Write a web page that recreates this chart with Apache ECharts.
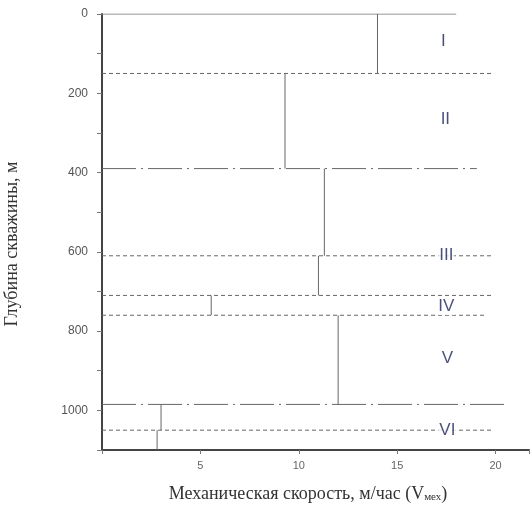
<!DOCTYPE html>
<html>
<head>
<meta charset="utf-8">
<script src="https://cdn.jsdelivr.net/npm/echarts@6/dist/echarts.min.js"></script>
<style>
  html, body { margin: 0; padding: 0; background: #fff; }
  #chart { width: 532px; height: 507px; }
</style>
</head>
<body>
<div id="chart"></div>
<script>
// границы интервалов по глубине, м
var boundaries = [0, 150, 390, 610, 710, 760, 985, 1050, 1100];
// механическая скорость на интервалах, м/час
var speeds = [14, 9.3, 11.3, 11, 5.55, 12, 3, 2.8];
// горизонтальные линии: глубина, длина по оси X, тип
var hDepth = [0, 150, 390, 610, 710, 760, 985, 1050];
var hLength = [18, 19.85, 19.05, 19.85, 19.85, 19.5, 20.55, 19.85];
var hType = ['solid', 'dashed', 'dashdot', 'dashed', 'dashed', 'dashed', 'dashdot', 'dashed'];
// подписи интервалов
var romanNames = ['I', 'II', 'III', 'IV', 'V', 'VI'];
var romanX = [17.35, 17.45, 17.5, 17.5, 17.55, 17.55];
var romanDepth = [70, 265, 610, 738, 868, 1050];

var xMax = 21.7;
var depthMax = 1100;

var lineTypes = {
  solid: 'solid',
  dashed: [4, 3],
  dashdot: [34, 5, 2, 5]
};

var series = [];

// горизонтальные линии
for (var i = 0; i < hDepth.length; i++) {
  series.push({
    type: 'line',
    data: [[0, hDepth[i]], [hLength[i], hDepth[i]]],
    symbol: 'none',
    silent: true,
    lineStyle: {
      color: hType[i] == 'solid' ? '#777' : '#666',
      width: 1,
      type: lineTypes[hType[i]]
    },
    z: 2
  });
}

// вертикальные отрезки профиля скорости
for (var i = 0; i < speeds.length; i++) {
  series.push({
    type: 'line',
    data: [[speeds[i], boundaries[i]], [speeds[i], boundaries[i + 1]]],
    symbol: 'none',
    silent: true,
    lineStyle: { color: '#666', width: 1 },
    z: 3
  });
}

// римские цифры
series.push({
  type: 'scatter',
  symbolSize: 0,
  data: romanNames.map(function (n, i) { return { value: [romanX[i], romanDepth[i]], name: n }; }),
  label: {
    show: true,
    position: 'inside',
    formatter: '{b}',
    color: '#1c2358',
    fontFamily: 'Liberation Sans',
    fontSize: 17,
    backgroundColor: '#fff',
    padding: [0, 1]
  },
  z: 5
});

var chart = echarts.init(document.getElementById('chart'));
chart.setOption({
  animation: false,
  grid: { left: 102, right: 0, top: 14, bottom: 57 },
  graphic: [
    {
      type: 'text',
      x: 12,
      y: 244,
      rotation: Math.PI / 2,
      style: {
        text: 'Глубина скважины, м',
        fontFamily: 'Liberation Serif',
        fontSize: 18,
        fill: '#333',
        align: 'center',
        verticalAlign: 'middle'
      }
    },
    {
      type: 'text',
      x: 308,
      y: 494,
      style: {
        text: 'Механическая скорость, м/час (V{sub|мех})',
        fontFamily: 'Liberation Serif',
        fontSize: 18,
        fill: '#333',
        align: 'center',
        verticalAlign: 'middle',
        rich: {
          sub: { fontFamily: 'Liberation Serif', fontSize: 11, fill: '#333', padding: [7, 0, 0, 0] }
        }
      }
    }
  ],
  xAxis: {
    type: 'value',
    min: 0,
    max: xMax,
    interval: 5,
    axisLine: { show: true, onZero: false, lineStyle: { color: '#444', width: 2 } },
    axisTick: { show: true, length: 4, lineStyle: { color: '#777' } },
    axisLabel: {
      color: '#666',
      fontFamily: 'Liberation Sans',
      fontSize: 11,
      margin: 10,
      formatter: function (v) { return (v == 0 || v > 20) ? '' : v; }
    },
    splitLine: { show: false }
  },
  yAxis: {
    type: 'value',
    inverse: true,
    min: 0,
    max: depthMax,
    interval: 100,
    axisLine: { show: true, lineStyle: { color: '#444', width: 2 } },
    axisTick: { show: true, length: 5, lineStyle: { color: '#777' } },
    axisLabel: {
      color: '#555',
      fontFamily: 'Liberation Sans',
      fontSize: 12,
      margin: 14,
      formatter: function (v) { return v % 200 == 0 ? v : ''; }
    },
    splitLine: { show: false }
  },
  series: series
});
</script>
</body>
</html>
